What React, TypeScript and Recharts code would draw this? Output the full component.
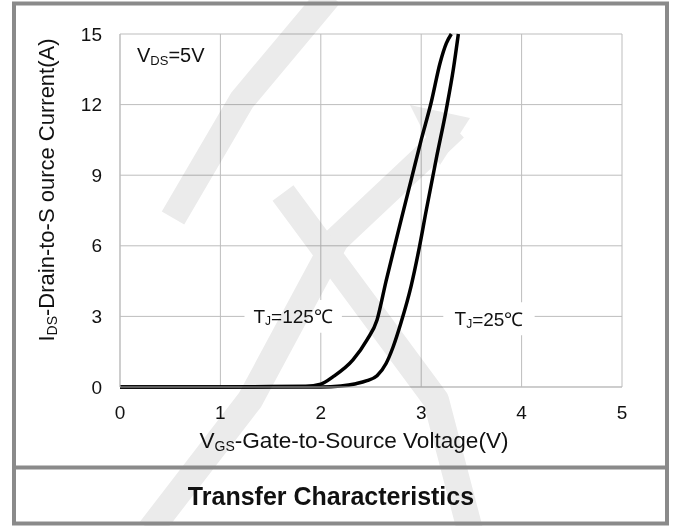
import React from "react";
import {
  LineChart,
  Line,
  XAxis,
  YAxis,
  CartesianGrid,
  ReferenceArea,
} from "recharts";

// V_GS (V) and I_DS (A)
const vgs125 = [0, 1.0, 1.5, 1.85, 2.0, 2.12, 2.32, 2.46, 2.56, 2.65, 2.8, 2.9, 3.0, 3.1, 3.19, 3.25, 3.3];
const ids125 = [0, 0, 0.02, 0.03, 0.12, 0.43, 1.15, 2.0, 2.85, 4.5, 7.1, 8.8, 10.5, 12.1, 13.8, 14.6, 15];

const vgs25 = [0, 1.0, 2.0, 2.2, 2.35, 2.46, 2.56, 2.65, 2.72, 2.8, 2.9, 2.98, 3.05, 3.15, 3.25, 3.32, 3.37];
const ids25 = [0, 0, 0, 0.04, 0.14, 0.27, 0.48, 1.0, 1.7, 2.75, 4.3, 5.9, 7.5, 9.7, 11.8, 13.5, 15];

const xTicks = [0, 1, 2, 3, 4, 5];
const yTicks = [0, 3, 6, 9, 12, 15];

const data125 = vgs125.map((v, k) => ({ v, i: ids125[k] }));
const data25 = vgs25.map((v, k) => ({ v, i: ids25[k] }));

const FONT = "'Liberation Sans', Arial, sans-serif";
const GRID = "#bdbdbd";
const FRAME = "#8a8a8a";

const XTick = (props: any) => {
  const { x, y, payload } = props;
  return (
    <text x={x} y={y + 25} textAnchor="middle" dominantBaseline="central" fontSize={19} fill="#111" fontFamily={FONT}>
      {payload.value}
    </text>
  );
};

const YTick = (props: any) => {
  const { x, y, payload } = props;
  return (
    <text x={x - 18} y={y} textAnchor="end" dominantBaseline="central" fontSize={19} fill="#111" fontFamily={FONT}>
      {payload.value}
    </text>
  );
};

const tjLabel = (rest: string) => (props: any) => {
  const vb = props.viewBox;
  const cx = vb.x + vb.width / 2;
  const cy = vb.y + vb.height / 2;
  return (
    <text x={cx} y={cy} textAnchor="middle" dominantBaseline="central" fontSize={19} fill="#111" fontFamily={FONT}>
      T
      <tspan fontSize={12} dy={5}>J</tspan>
      <tspan dy={-5}>{rest}</tspan>
    </text>
  );
};

export default function App() {
  return (
    <div style={{ position: "absolute", left: 0, top: 0, width: 673, height: 526, background: "#fff" }}>
      <LineChart
        width={673}
        height={526}
        margin={{ top: 34, right: 51, bottom: 109, left: 0 }}
      >
        <CartesianGrid stroke={GRID} strokeWidth={1} />
        <XAxis
          type="number"
          dataKey="v"
          domain={[0, 5]}
          ticks={xTicks}
          height={30}
          tickLine={false}
          tickSize={0}
          tickMargin={0}
          axisLine={{ stroke: GRID }}
          tick={<XTick />}
        />
        <YAxis
          type="number"
          domain={[0, 15]}
          ticks={yTicks}
          width={120}
          tickLine={false}
          tickSize={0}
          tickMargin={0}
          axisLine={{ stroke: GRID }}
          tick={<YTick />}
        />
        <ReferenceArea x1={1.24} x2={2.21} y1={2.3} y2={3.7} fill="#fff" fillOpacity={1} stroke="none" label={tjLabel("=125℃")} />
        <ReferenceArea x1={3.22} x2={4.13} y1={2.2} y2={3.6} fill="#fff" fillOpacity={1} stroke="none" label={tjLabel("=25℃")} />
        <Line data={data125} dataKey="i" type="monotone" stroke="#000" strokeWidth={3.5} dot={false} isAnimationActive={false} />
        <Line data={data25} dataKey="i" type="monotone" stroke="#000" strokeWidth={3.5} dot={false} isAnimationActive={false} />
      </LineChart>

      {/* faint logo watermark, multiplied over the chart */}
      <svg width={673} height={526} style={{ position: "absolute", left: 0, top: 0, mixBlendMode: "multiply", pointerEvents: "none" }}>
        <g stroke="#ebebeb" strokeWidth={26} fill="none" strokeLinejoin="round">
          <polyline points="173,218 242,100 330,-5" />
          <polyline points="455,128 336,240 250,400 150,530" />
          <polyline points="283,193 436,400 470,530" />
        </g>
        <polygon points="410,105 470,118 440,165" fill="#ebebeb" />
      </svg>

      {/* frame, titles and axis names */}
      <svg width={673} height={526} style={{ position: "absolute", left: 0, top: 0, pointerEvents: "none" }}>
        <rect x={14} y={3.5} width={653} height={520} fill="none" stroke={FRAME} strokeWidth={4} />
        <line x1={14} x2={667} y1={467.5} y2={467.5} stroke={FRAME} strokeWidth={4} />
        <text x={137} y={55} dominantBaseline="central" fontSize={20} fill="#111" fontFamily={FONT}>
          V<tspan fontSize={13} dy={5}>DS</tspan>
          <tspan dy={-5}>=5V</tspan>
        </text>
        <text x={354} y={440} textAnchor="middle" dominantBaseline="central" fontSize={22.6} fill="#111" fontFamily={FONT}>
          V<tspan fontSize={14} dy={6}>GS</tspan>
          <tspan dy={-6}>-Gate-to-Source Voltage(V)</tspan>
        </text>
        <text
          x={46}
          y={190}
          transform="rotate(-90 46 190)"
          textAnchor="middle"
          dominantBaseline="central"
          fontSize={22}
          fill="#111"
          fontFamily={FONT}
        >
          I<tspan fontSize={14} dy={6}>DS</tspan>
          <tspan dy={-6}>-Drain-to-S ource Current(A)</tspan>
        </text>
        <text x={331} y={496} textAnchor="middle" dominantBaseline="central" fontSize={25} fontWeight="bold" fill="#111" fontFamily={FONT}>
          Transfer Characteristics
        </text>
      </svg>
    </div>
  );
}
